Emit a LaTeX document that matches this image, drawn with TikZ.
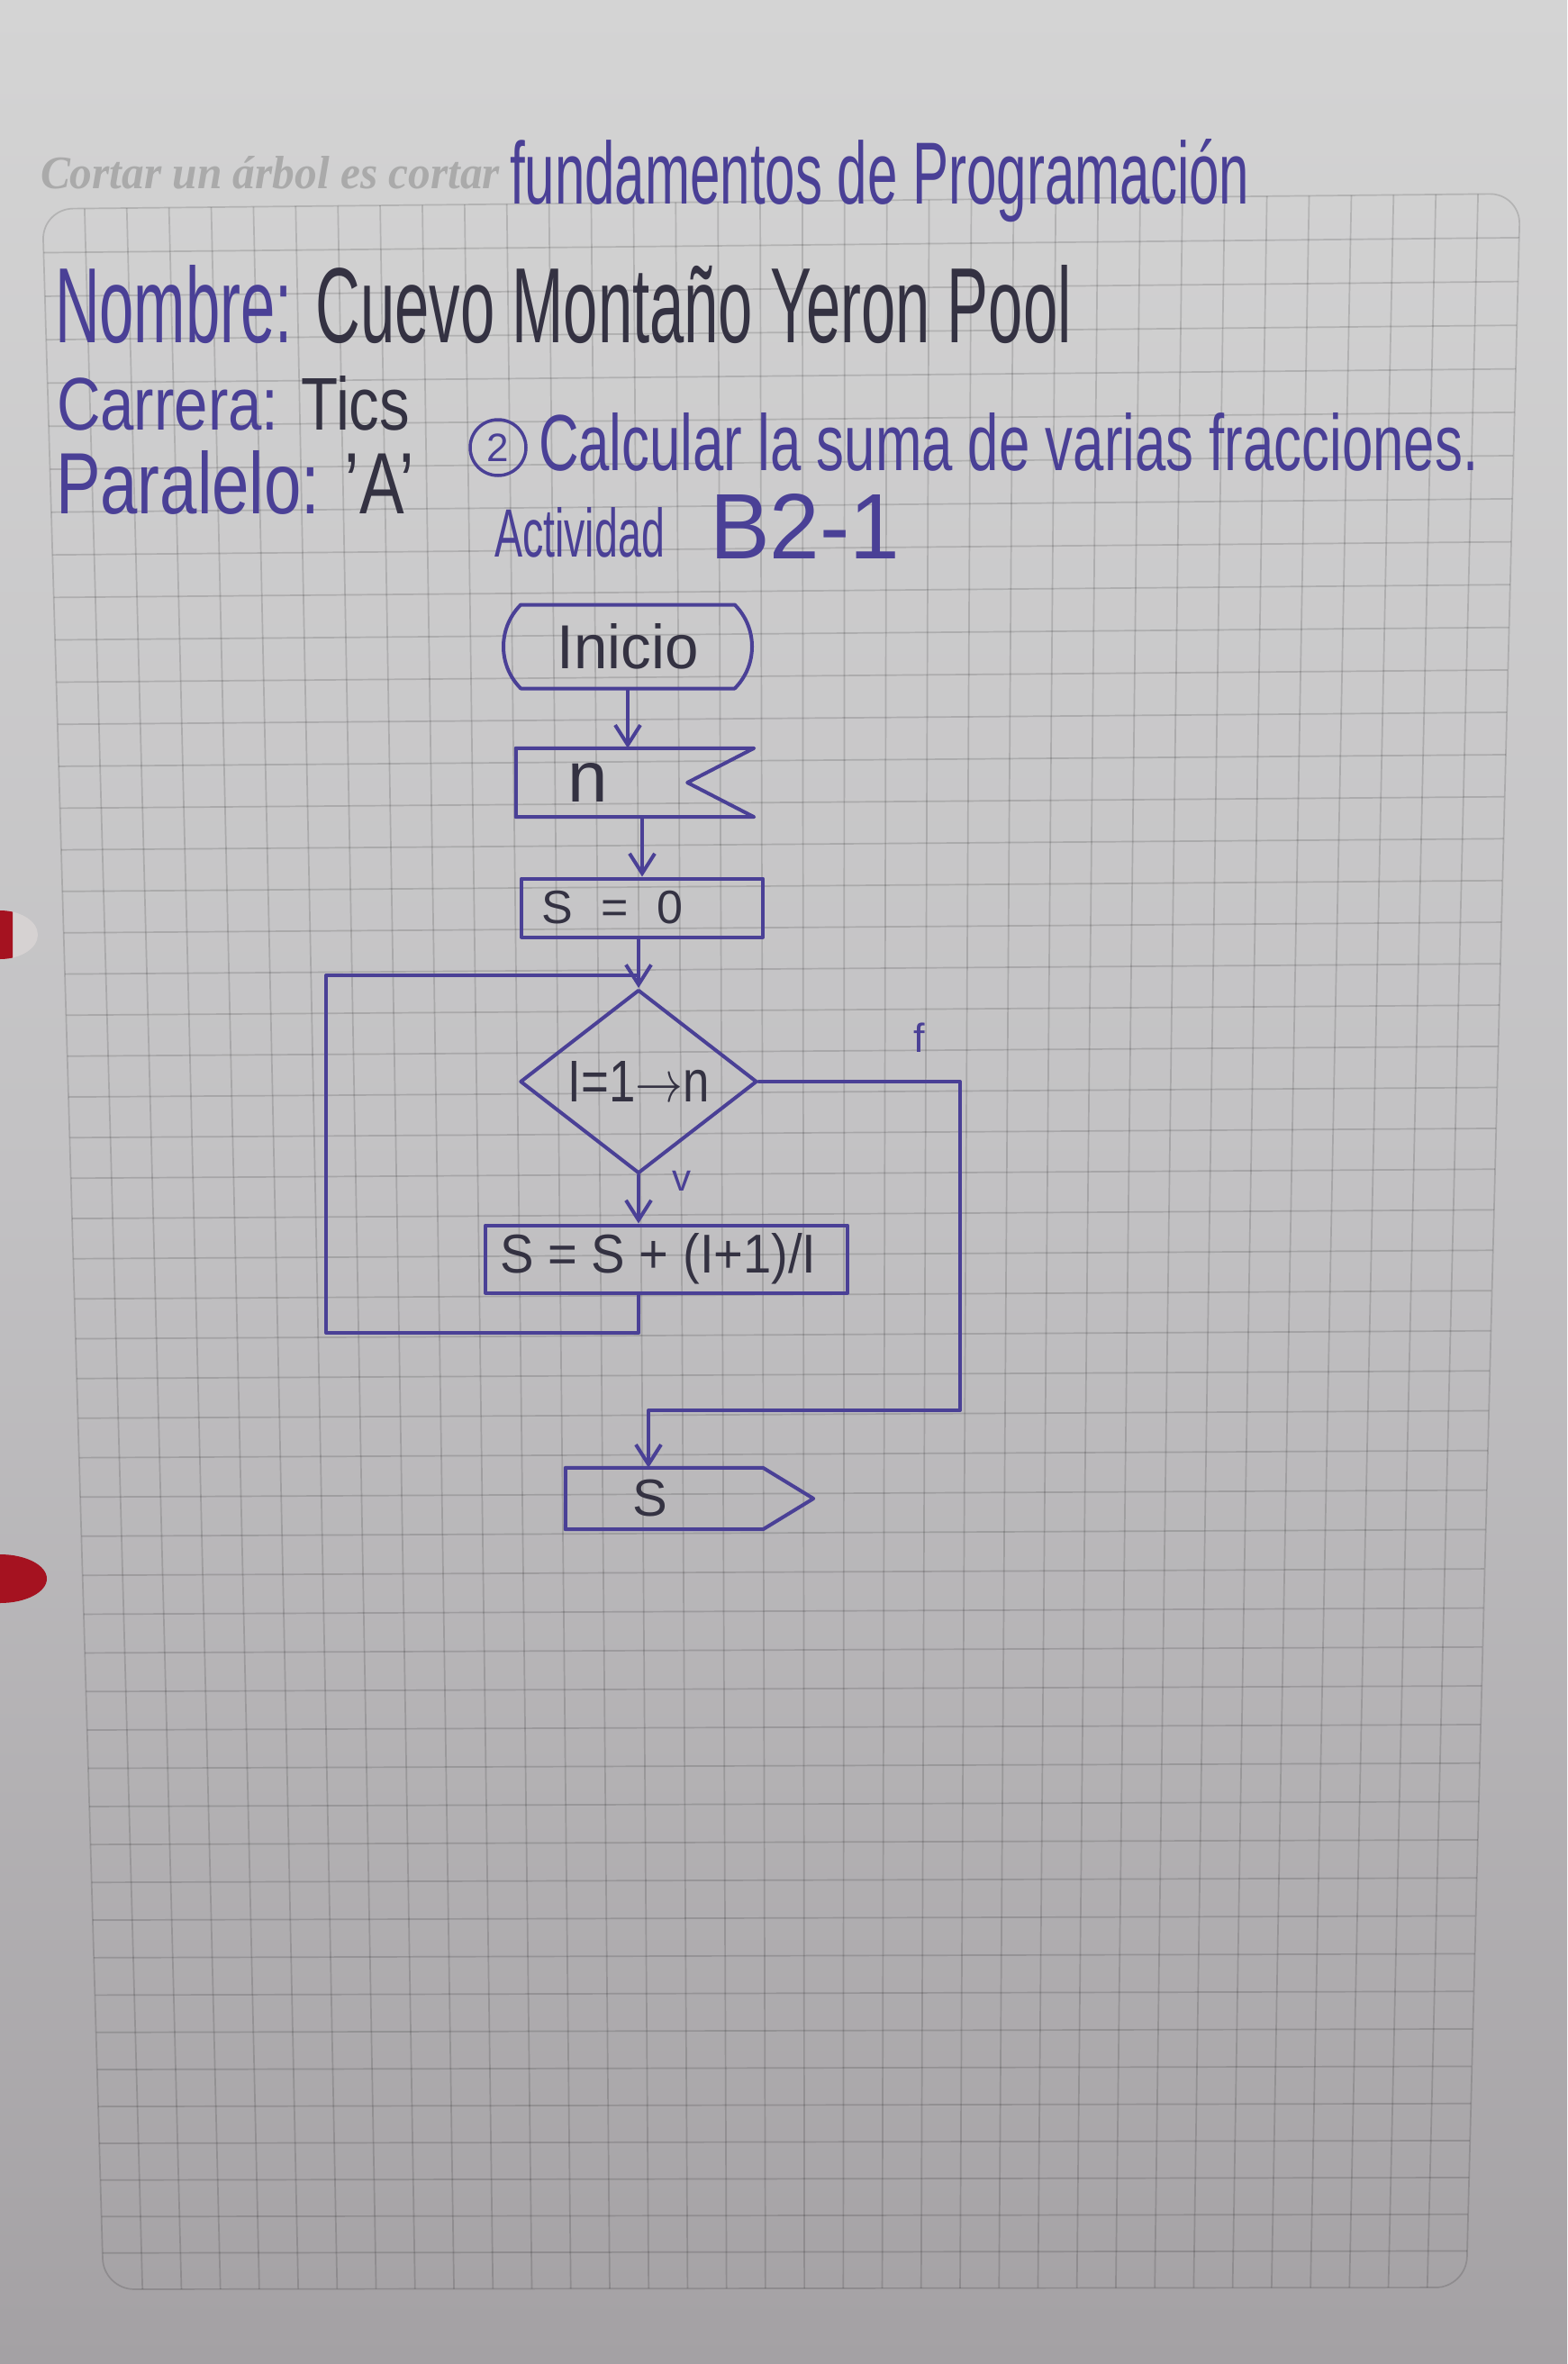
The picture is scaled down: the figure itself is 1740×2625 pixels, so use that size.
\documentclass[tikz,border=0pt]{standalone}
\usepackage{fontspec}
\setmainfont{Liberation Sans}
\newfontfamily\printfont{Liberation Serif}
\usepackage{graphicx}
\usetikzlibrary{shapes.geometric,shapes.misc,arrows.meta,calc}

\definecolor{ink}{RGB}{74,64,150}
\definecolor{dark}{RGB}{52,50,66}
\definecolor{paperTop}{RGB}{212,212,212}
\definecolor{paperMid}{RGB}{194,193,195}
\definecolor{paperBot}{RGB}{164,161,164}
\definecolor{printgray}{RGB}{170,170,170}
\definecolor{holered}{RGB}{165,18,32}
\definecolor{holein}{RGB}{214,210,210}

\newcommand{\fitbox}[3]{\resizebox{#1pt}{#2pt}{#3}}

\begin{document}
\begin{tikzpicture}[x=1pt,y=-1pt,
  pen/.style={draw=ink,line width=4pt,line join=round,line cap=round},
  flow/.style={draw=ink,line width=4pt,line join=round,line cap=round},
  arr/.style={flow,-{Straight Barb[length=22pt,width=28pt]}},
  gridline/.style={draw=black,draw opacity=0.14,line width=1.7pt},
  hand/.style={inner sep=0pt,outer sep=0pt},
  box/.style={rectangle,pen,inner sep=0pt,text=dark},
  ghost/.style={rectangle,draw=none,inner sep=0pt,text=dark},
]
\useasboundingbox (0,0) rectangle (1740,2625);
\shade[top color=paperTop, bottom color=paperBot, middle color=paperMid] (0,0) rectangle (1740,2625);

% grid
\begin{scope}
\clip[rounded corners=34pt] (47,232) -- (1688,215) -- (1628,2540) -- (115,2542) -- cycle;
\foreach \k in {1,...,34} {
  \pgfmathsetmacro\u{\k/35}
  \draw[gridline] ({47+1641*\u},{232-17*\u}) -- ({115+1513*\u},{2542-2*\u});
}
\foreach \j in {1,...,51} {
  \pgfmathsetmacro\s{\j/52}
  \pgfmathsetmacro\g{\s*(1.0957-0.0957*\s)}
  \draw[gridline] ({47+68*\g},{232+2310*\g}) -- ({1688-60*\g},{215+2325*\g});
}
\end{scope}
\draw[gridline,rounded corners=34pt] (47,232) -- (1688,215) -- (1628,2540) -- (115,2542) -- cycle;

% binder holes
\fill[holein] (0,1038) ellipse [x radius=42pt, y radius=27pt];
\begin{scope}
\clip (0,1000) rectangle (14,1080);
\fill[holered] (0,1038) ellipse [x radius=42pt, y radius=27pt];
\end{scope}
\fill[holered] (0,1753) ellipse [x radius=52pt, y radius=27pt];

% header
\node[hand, anchor=base west, text=printgray] (motto) at (45,210) {\fitbox{510}{36}{\printfont\bfseries\itshape Cortar un árbol es cortar}};
\node[hand, anchor=base west, text=ink] (title) at (566,226) {\fitbox{821}{72}{fundamentos de Programación}};
\node[hand, anchor=base west] (nombre) at (61,380) {\fitbox{1128}{86}{\color{ink}Nombre: \color{dark}Cuevo Montaño Yeron Pool}};
\node[hand, anchor=base west] (carrera) at (63,477) {\fitbox{392}{60}{\color{ink}Carrera: \color{dark}Tics}};
\node[hand, anchor=base west] (paralelo) at (62,570) {\fitbox{398}{70}{\color{ink}Paralelo: \color{dark}'A'}};
\node[circle, draw=ink, line width=3.5pt, minimum size=62pt, inner sep=0pt, text=ink] (num) at (553,497) {\fontsize{44}{44}\selectfont 2};
\node[hand, anchor=base west, text=ink] (task) at (598,522) {\fitbox{1043}{64}{Calcular la suma de varias fracciones.}};
\node[hand, anchor=base west, text=ink] (act) at (549,618) {\fitbox{189}{55}{Actividad}};
\node[hand, anchor=base west, text=ink] (bnum) at (788,620) {\fitbox{211}{72}{B2-1}};

% flowchart nodes
\node[rounded rectangle, rounded rectangle arc length=90, pen, minimum width=276pt, minimum height=93pt, inner sep=0pt, text=dark] (ini) at (697,718) {\fitbox{157}{50}{Inicio}};

\node[ghost, minimum width=264pt, minimum height=76pt] (inp) at (705,869) {\fontsize{80}{80}\selectfont n\hspace{104pt}\mbox{}};
\draw[pen] (inp.north west) -- (inp.north east) -- ($(inp.east)+(-74,0)$) -- (inp.south east) -- (inp.south west) -- cycle;

\node[box, minimum width=268pt, minimum height=65pt] (s0) at (713,1008) {\fontsize{52}{52}\selectfont S\hspace{0.6em}=\hspace{0.6em}0\hspace{66pt}\mbox{}};

\node[diamond, pen, minimum width=263pt, minimum height=204pt, inner sep=0pt, text=dark] (dia) at (709,1201) {\fitbox{157}{45}{I=1$\rightarrow$n}};

\node[box, minimum width=402pt, minimum height=75pt] (proc) at (740,1398) {\fitbox{351}{44}{S = S + (I+1)/I}\hspace{18pt}\mbox{}};

\node[ghost, minimum width=219pt, minimum height=68pt] (out) at (737.5,1664) {\fontsize{58}{58}\selectfont S\hspace{31pt}\mbox{}};
\draw[pen] (out.north west) -- (out.north east) -- ($(out.east)+(56,0)$) -- (out.south east) -- (out.south west) -- cycle;

% labels
\node[hand, text=ink] (lf) at (1021,1152) {\fontsize{45}{45}\selectfont f};
\node[hand, text=ink] (lv) at (757,1311) {\fontsize{42}{42}\selectfont v};

% connectors
\coordinate (lb) at (362,1480);
\coordinate (lt) at (362,1083);
\coordinate (rb) at (1066,1566);
\coordinate (ob) at (720,1566);

\draw[arr] (ini.south) -- (ini.south |- inp.north);
\draw[arr] (s0.north |- inp.south) -- (s0.north);
\draw[arr] (dia.north |- s0.south) -- (dia.north);
\draw[arr] (dia.south) -- (dia.south |- proc.north);
\draw[flow] (proc.south -| dia.south) |- (lb) -- (lt) -- (dia.north |- lt);
\draw[arr] (dia.east) -| (rb) -- (ob) -- (ob |- out.north);
\end{tikzpicture}
\end{document}
